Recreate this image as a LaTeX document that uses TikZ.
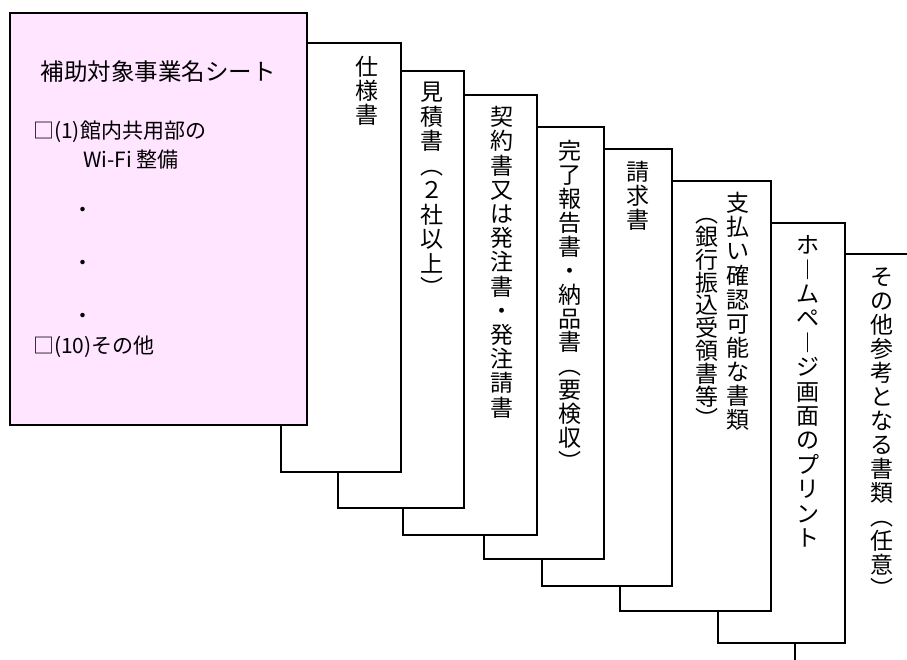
\documentclass[tikz,border=0pt]{standalone}
\usepackage{fontspec}
\setmainfont{Noto Sans CJK JP}
\definecolor{sheetpink}{RGB}{255,229,255}
\newcommand{\vcol}[5]{%
  \foreach \vch [count=\vi] in {#5}{%
    \node[vtext] (#1-\vi) at (#2, {#3 + 8.7 + (\vi-1)*#4}) {\vch};
  }}
\begin{document}
\begin{tikzpicture}[x=1pt,y=-1pt,
  sheet/.style={draw=black, line width=1.3pt, fill=white},
  vtext/.style={font=\fontsize{23}{23}\selectfont, inner sep=0pt, anchor=base},
  htitle/.style={font=\fontsize{23.5}{28}\selectfont, inner sep=0pt},
  hitem/.style={font=\fontsize{21}{24}\selectfont, inner sep=0pt, anchor=west}]
\useasboundingbox (0,0) rectangle (907,659);
\clip (0,0) rectangle (907,659);
\fill[white] (0,0) rectangle (907,659);
% sheets, back to front
\draw[sheet] (795,254) rectangle (940,700);
\draw[sheet] (718,223) rectangle (845,643);
\draw[sheet] (620,181) rectangle (771,611);
\draw[sheet] (542,149) rectangle (672,586);
\draw[sheet] (484,127) rectangle (604,559);
\draw[sheet] (403,95) rectangle (537,535);
\draw[sheet] (338,71) rectangle (464,508);
\draw[sheet] (281,43) rectangle (401,472);
\draw[sheet, fill=sheetpink] (10,13) rectangle (307,425);
% vertical texts
\vcol{c2}{367}{67}{24}{仕,様,書}
\vcol{c3}{432}{92}{24.5}{見,積,書,︵,２,社,以,上,︶}
\vcol{c4}{502}{117}{24.2}{契,約,書,又,は,発,注,書,・,発,注,請,書}
\vcol{c5}{570}{151}{23.9}{完,了,報,告,書,・,納,品,書,︵,要,検,収,︶}
\vcol{c6}{638}{172}{24}{請,求,書}
\vcol{c7a}{738}{203}{24.1}{支,払,い,確,認,可,能,な,書,類}
\vcol{c7b}{707}{214}{22.8}{︵,銀,行,振,込,受,領,書,等,︶}
\vcol{c8}{808}{245}{24.4}{ホ,︱,ム,ペ,︱,ジ,画,面,の,プ,リ,ン,ト}
\vcol{c9}{882}{277}{24}{そ,の,他,参,考,と,な,る,書,類,︵,任,意,︶}
% horizontal texts on the front sheet
\node[htitle] (title) at (158,72) {補助対象事業名シート};
\node[hitem] (i1) at (33,132) {□(1)館内共用部の};
\node[hitem] (i1b) at (83,160) {Wi-Fi 整備};
\node[hitem, anchor=center] (d1) at (83,212) {・};
\node[hitem, anchor=center] (d2) at (83,265) {・};
\node[hitem, anchor=center] (d3) at (83,318) {・};
\node[hitem] (i10) at (33,347) {□(10)その他};
\end{tikzpicture}
\end{document}
